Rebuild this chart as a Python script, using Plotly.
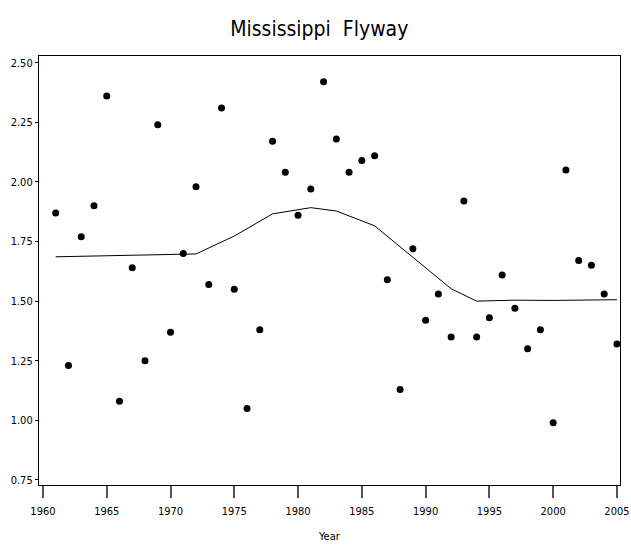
import plotly.graph_objects as go

years = list(range(1961, 2006))
values = [1.87, 1.23, 1.77, 1.90, 2.36, 1.08, 1.64, 1.25, 2.24, 1.37,
          1.70, 1.98, 1.57, 2.31, 1.55, 1.05, 1.38, 2.17, 2.04, 1.86,
          1.97, 2.42, 2.18, 2.04, 2.09, 2.11, 1.59, 1.13, 1.72, 1.42,
          1.53, 1.35, 1.92, 1.35, 1.43, 1.61, 1.47, 1.30, 1.38, 0.99,
          2.05, 1.67, 1.65, 1.53, 1.32]

smooth_years = [1961, 1963, 1966, 1969, 1971, 1972, 1975, 1978, 1981, 1983,
                1986, 1989, 1992, 1994, 1997, 2000, 2003, 2005]
smooth_values = [1.686, 1.688, 1.692, 1.697, 1.698, 1.698, 1.773, 1.866, 1.892, 1.878,
                 1.816, 1.686, 1.552, 1.500, 1.504, 1.503, 1.503, 1.506]

x_ticks = [1960, 1965, 1970, 1975, 1980, 1985, 1990, 1995, 2000, 2005]
y_ticks = [0.75, 1.00, 1.25, 1.50, 1.75, 2.00, 2.25, 2.50]

font_family = "DejaVu Sans Condensed, Liberation Sans Narrow, Liberation Sans, sans-serif"

W, H = 631, 548

fig = go.Figure()
fig.add_trace(go.Scatter(x=smooth_years, y=smooth_values, mode="lines",
                         line=dict(color="black", width=1), showlegend=False))
fig.add_trace(go.Scatter(x=years, y=values, mode="markers",
                         marker=dict(color="black", size=7), showlegend=False))

fig.add_annotation(text="Year", xref="paper", yref="paper", x=0.5, y=0,
                   xanchor="center", yanchor="middle", yshift=-51, showarrow=False,
                   font=dict(size=11, family=font_family, color="black"))

fig.update_layout(
    width=W, height=H,
    margin=dict(l=39, r=11, t=56, b=63, autoexpand=False),
    paper_bgcolor="white", plot_bgcolor="white",
    font=dict(family=font_family, color="black", size=11),
    title=dict(text="Mississippi  Flyway", x=0.506, xanchor="center", xref="container",
               y=1 - 29 / H, yanchor="middle",
               font=dict(size=21, family=font_family, color="black")),
    xaxis=dict(range=[1959.69, 2005.24], tickvals=x_ticks, ticktext=[str(t) for t in x_ticks],
               showgrid=False, zeroline=False, showline=True, linecolor="black", linewidth=1.2,
               mirror=True, ticks="outside", ticklen=12, tickwidth=2, tickcolor="#555555",
               ticklabelstandoff=4, ticklabeloverflow="allow",
               tickfont=dict(size=11, family=font_family), automargin=False),
    yaxis=dict(range=[0.729, 2.528], tickvals=y_ticks, ticktext=[f"{t:.2f}" for t in y_ticks],
               showgrid=False, zeroline=False, showline=True, linecolor="black", linewidth=1.2,
               mirror=True, ticks="outside", ticklen=3, tickwidth=1, tickcolor="black",
               ticklabeloverflow="allow",
               tickfont=dict(size=11, family=font_family), automargin=False),
)

fig.write_html("out.html", config={"displayModeBar": False},
               post_script="document.body.style.margin='0px';document.body.style.overflow='hidden';")
